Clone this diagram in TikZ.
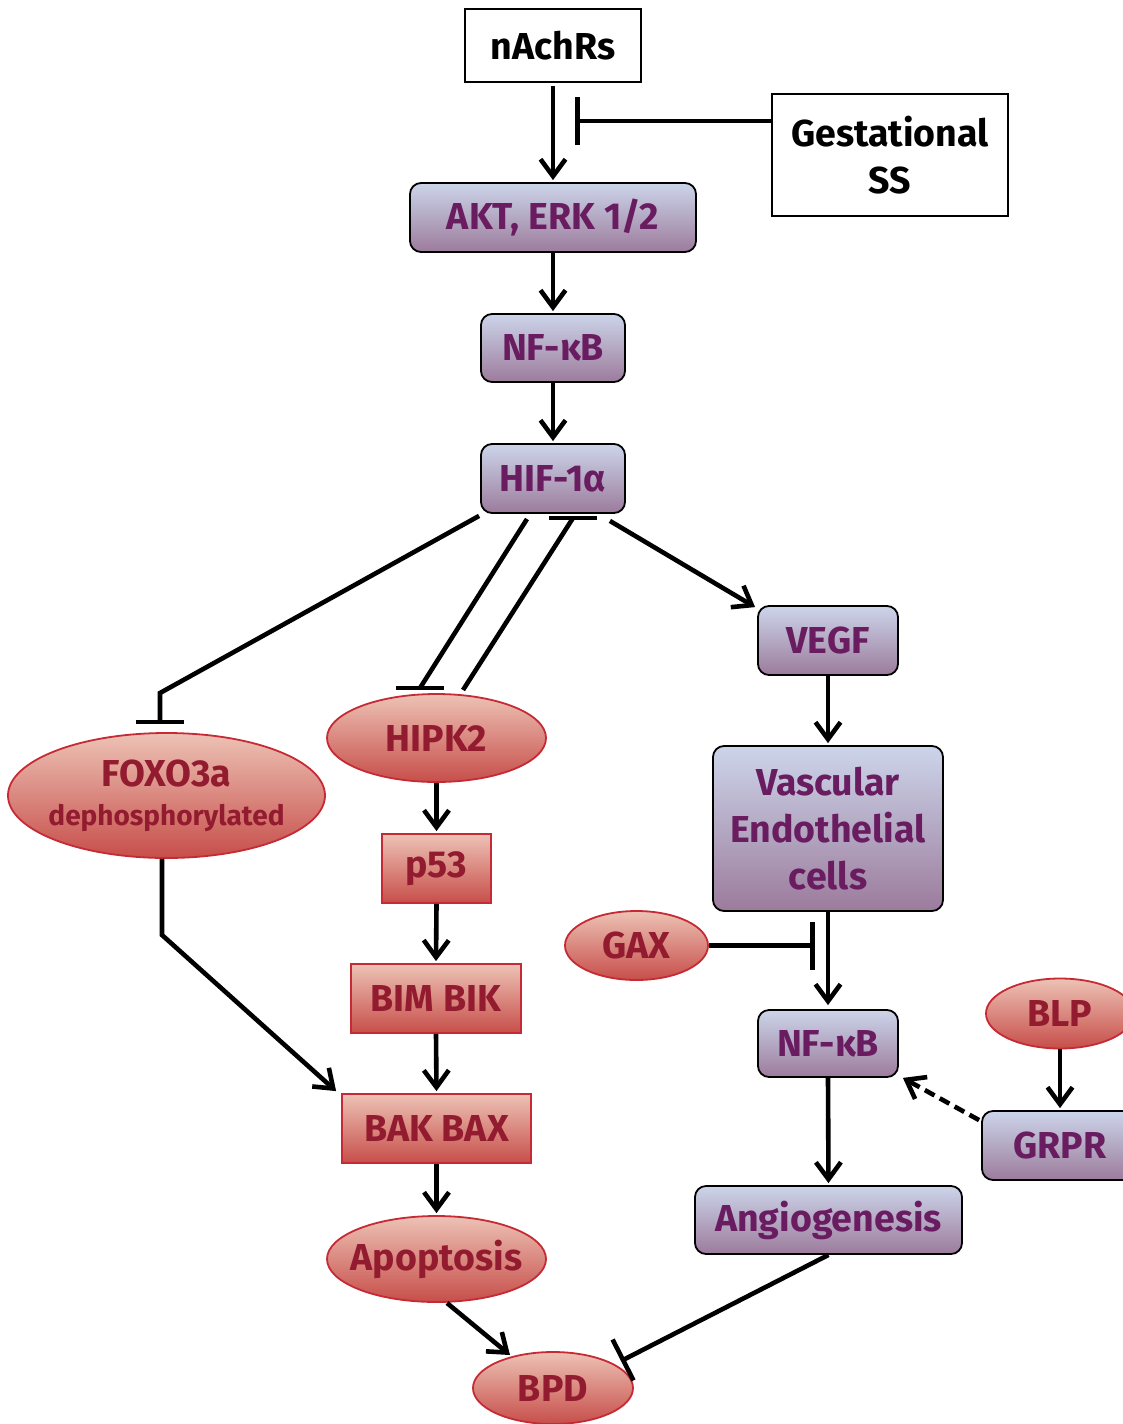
\documentclass[tikz,border=0pt]{standalone}
\usepackage{fontspec}
\setmainfont{Fira Sans}
\usetikzlibrary{shapes.geometric,arrows.meta,calc}
\definecolor{btop}{HTML}{CCD5EA}
\definecolor{bbot}{HTML}{9C7B9C}
\definecolor{btext}{HTML}{6A1C60}
\definecolor{rtop}{HTML}{EDC2B5}
\definecolor{rbot}{HTML}{C74E4A}
\definecolor{rline}{HTML}{C62A35}
\definecolor{rtext}{HTML}{921B2F}
\newcommand{\zw}[1]{\makebox[0pt][c]{#1}}
\begin{document}
\begin{tikzpicture}[x=1pt,y=-1pt,
  every node/.style={font=\bfseries\fontsize{37.5}{47}\selectfont, inner sep=0pt},
  plainbox/.style={draw=black, line width=1.5pt, fill=white, text=black},
  bluebox/.style={draw=black, line width=1.8pt, rounded corners=11pt, top color=btop, bottom color=bbot, text=btext},
  redbox/.style={draw=rline, line width=1.8pt, top color=rtop, bottom color=rbot, text=rtext},
  redell/.style={ellipse, draw=rline, line width=1.8pt, top color=rtop, bottom color=rbot, text=rtext},
  conn/.style={line width=4.6pt},
  arr/.style={conn, -{Straight Barb[length=17pt,width=25pt]}},
  inh/.style={conn, -{Bar[width=48pt]}},
]
\clip (0,0) rectangle (1123,1424);
\fill[white] (0,0) rectangle (1123,1424);
% nodes
\node[plainbox, minimum width=176pt, minimum height=73pt] (nach) at (553,45.5) {nAchRs};
\node[plainbox, minimum width=236pt, minimum height=122pt, align=center] (gest) at (890,155) {Gestational\\SS};
\node[bluebox, minimum width=286pt, minimum height=69pt] (akt) at (553,217.5) {AKT, ERK 1/2};
\node[bluebox, minimum width=144pt, minimum height=68pt] (nf1) at (553,348) {NF-κB};
\node[bluebox, minimum width=144pt, minimum height=69pt] (hif) at (553,478.5) {HIF-1α};
\node[bluebox, minimum width=140pt, minimum height=69pt] (vegf) at (828,640.5) {VEGF};
\node[bluebox, minimum width=230pt, minimum height=165pt, align=center] (vec) at (828,828.5) {Vascular\\Endothelial\\cells};
\node[bluebox, minimum width=140pt, minimum height=67pt] (nf2) at (828,1043.5) {NF-κB};
\node[bluebox, minimum width=156pt, minimum height=69pt] (grpr) at (1060,1145.5) {GRPR};
\node[bluebox, minimum width=267pt, minimum height=68pt] (ang) at (828.5,1220) {Angiogenesis};
\node[redell, minimum width=148pt, minimum height=70pt] (blp) at (1060,1013.5) {\zw{BLP}};
\node[redell, minimum width=143pt, minimum height=69pt] (gax) at (636.5,945.5) {\zw{GAX}};
\node[redell, minimum width=219pt, minimum height=88pt] (hipk) at (436.5,738) {\zw{HIPK2}};
\node[redell, minimum width=317pt, minimum height=125pt, align=center] (foxo) at (166.5,795.5) {\zw{FOXO3a}\\[-8pt]{\fontsize{28}{30}\selectfont \zw{dephosphorylated}}};
\node[redbox, minimum width=109pt, minimum height=69pt] (p53) at (436.5,868.5) {p53};
\node[redbox, minimum width=170pt, minimum height=69pt] (bim) at (436,998.5) {BIM BIK};
\node[redbox, minimum width=189pt, minimum height=69pt] (bak) at (436.5,1128.5) {BAK BAX};
\node[redell, minimum width=219pt, minimum height=86pt] (apo) at (436.5,1259) {\zw{Apoptosis}};
\node[redell, minimum width=160pt, minimum height=72pt] (bpd) at (553,1388) {\zw{BPD}};
% helper coordinates
\coordinate (gbar) at (575,121);
\coordinate (fk) at (160,693);
\coordinate (fbar) at (160,722);
\coordinate (hs1) at (527,519);
\coordinate (hb1) at (420,688);
\coordinate (hs2) at (463,690);
\coordinate (hb2) at (573,518);
\coordinate (fo1) at (162,935);
\coordinate (bpdbar) at (621,1361);
% connectors
\draw[arr, shorten <=3pt, shorten >=2pt] (nach.south) -- (akt.north);
\draw[inh] (gest.west |- gbar) -- (gbar);
\draw[arr, shorten >=2pt] (akt.south) -- (nf1.north);
\draw[arr, shorten >=2pt] (nf1.south) -- (hif.north);
\draw[conn] ($(hif.south west)+(-1,2)$) -- (fk) -- (fbar);
\draw[conn] (136,722) -- (184,722);
\draw[conn] (hs1) -- (hb1);
\draw[conn] (396,688) -- (444,688);
\draw[conn] (hs2) -- (hb2);
\draw[conn] (549,518) -- (597,518);
\draw[arr] ($(hif.south east)+(-16,7)$) -- ($(vegf.north west)+(-2,2)$);
\draw[arr, shorten >=2pt] (vegf.south) -- (vec.north);
\draw[arr, shorten >=4pt] (vec.south) -- (nf2.north);
\draw[inh] (gax.east) -- (815,945.5);
\draw[arr, shorten >=2pt] (nf2.south) -- (ang.north);
\draw[arr, shorten >=2pt] (blp.south) -- (grpr.north);
\draw[conn, dash pattern=on 11pt off 6pt, -{Straight Barb[length=17pt,width=25pt]}] ($(grpr.north west)+(-2,10)$) -- ($(nf2.south east)+(4,0)$);
\draw[arr] (foxo.south -| fo1) -- (fo1) -- ($(bak.north west)+(-5,-2)$);
\draw[arr, shorten >=2pt] (hipk.south) -- (p53.north);
\draw[arr, shorten >=2pt] (p53.south) -- (bim.north);
\draw[arr, shorten >=2pt] (bim.south) -- (bak.north);
\draw[arr, shorten >=2pt] (bak.south) -- (apo.north);
\draw[arr] (447,1303) -- (510,1355);
\draw[conn, -{Bar[width=46pt]}] (ang.south) -- (bpdbar);
\end{tikzpicture}
\end{document}
